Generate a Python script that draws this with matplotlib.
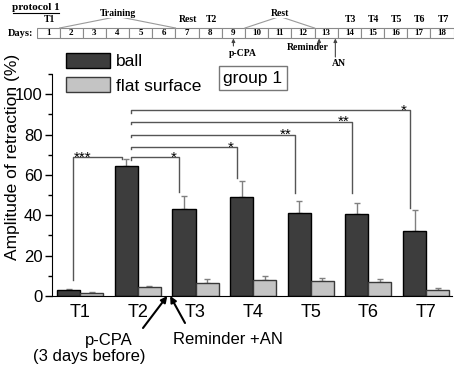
import matplotlib.pyplot as plt
import numpy as np

plt.rcParams['font.family'] = ['Liberation Sans', 'DejaVu Sans']

tests = ['T1', 'T2', 'T3', 'T4', 'T5', 'T6', 'T7']
ball = [2.9, 64.4, 42.9, 49.2, 40.9, 40.4, 32.2]
ball_err = [0.7, 3.3, 6.8, 7.9, 6.1, 5.8, 10.4]
flat = [1.5, 4.3, 6.3, 7.9, 7.6, 6.8, 3.0]
flat_err = [0.3, 0.5, 1.9, 1.8, 1.5, 1.6, 1.1]

# significance brackets
sig_from = ['T1', 'T2', 'T2', 'T2', 'T2', 'T2']
sig_to = ['T2', 'T3', 'T4', 'T5', 'T6', 'T7']
sig_level = [68.7, 68.7, 73.9, 80.0, 86.3, 92.1]
sig_left_end = [8.0, 67.5, 72.6, 78.7, 85.0, 90.8]
sig_right_end = [67.7, 51.5, 58.4, 51.0, 51.0, 43.6]
sig_stars = ['***', '*', '*', '**', '**', '*']

# protocol schematic
days = list(range(1, 19))
day_labels = {1: 'T1', 7: 'Rest', 8: 'T2', 14: 'T3', 15: 'T4',
              16: 'T5', 17: 'T6', 18: 'T7'}
periods = [('Training', 2, 6), ('Rest', 10, 12)]

fig = plt.figure(figsize=(4.59, 3.66), dpi=100)
W, H = 459, 366
ax = fig.add_axes([52 / W, (H - 296) / H, 400 / W, 222 / H])

x = np.arange(len(tests))
bw = 0.4
err_kw = dict(ecolor='#808080', elinewidth=1, capsize=2.5, capthick=1, zorder=1)
ax.bar(x - bw / 2, ball, bw, color='#3d3d3d', edgecolor='black', linewidth=1,
       yerr=[np.zeros(len(x)), ball_err], error_kw=err_kw, label='ball', zorder=2)
ax.bar(x + bw / 2, flat, bw, color='#c4c4c4', edgecolor='#3a3a3a', linewidth=1,
       yerr=[np.zeros(len(x)), flat_err], error_kw=err_kw, label='flat surface', zorder=2)

for a, b, lev, le, re, st in zip(sig_from, sig_to, sig_level, sig_left_end,
                                 sig_right_end, sig_stars):
    xl = tests.index(a) - bw / 2 + 0.08
    xr = tests.index(b) - bw / 2 - 0.08
    ax.plot([xl, xl, xr, xr], [le, lev, lev, re], color='#555555', lw=1,
            zorder=3, clip_on=False)
    if a == 'T1':
        ax.text(xl, lev - 2.2, st, ha='left', va='baseline', fontsize=11,
                zorder=4)
    else:
        ax.text(xr - 0.05, lev - 2.2, st, ha='right', va='baseline', fontsize=11,
                zorder=4)

ax.set_xlim(-0.49, 6.45)
ax.set_ylim(0, 110)
ax.set_xticks(x)
ax.set_xticklabels(tests, fontsize=13)
ax.tick_params(axis='x', length=0, pad=6)
ax.set_yticks(np.arange(0, 101, 20))
ax.set_yticks(np.arange(10, 111, 20), minor=True)
ax.tick_params(axis='y', which='major', direction='out', length=5, width=1,
               labelsize=12, pad=2)
ax.tick_params(axis='y', which='minor', direction='out', length=3, width=1)
ax.spines['top'].set_visible(False)
ax.spines['right'].set_visible(False)
ax.set_ylabel('Amplitude of retraction (%)', fontsize=12.5)
ax.yaxis.set_label_coords(-0.08, 0.626)

ax.legend(loc='upper left', bbox_to_anchor=(66 / W, 1 - 53 / H),
          bbox_transform=fig.transFigure, frameon=False, fontsize=12.5,
          handlelength=2.55, handleheight=0.95, handletextpad=0.35,
          labelspacing=0.45, borderpad=0, borderaxespad=0)

fig.text(253 / W, 1 - 78 / H, 'group 1', ha='center', va='center', fontsize=12.5,
         bbox=dict(boxstyle='square,pad=0.25', facecolor='white',
                   edgecolor='#777777', linewidth=1))

# treatment arrows below the axis
ax.annotate('', xy=(1.51, 0), xycoords='data', xytext=(143 / W, 1 - 328 / H),
            textcoords='figure fraction',
            arrowprops=dict(arrowstyle='-|>', color='black', lw=1.5,
                            mutation_scale=9, shrinkA=0, shrinkB=0),
            annotation_clip=False)
ax.annotate('', xy=(1.56, 0), xycoords='data', xytext=(185 / W, 1 - 323 / H),
            textcoords='figure fraction',
            arrowprops=dict(arrowstyle='-|>', color='black', lw=1.5,
                            mutation_scale=9, shrinkA=0, shrinkB=0),
            annotation_clip=False)
fig.text(109 / W, 1 - 340 / H, 'p-CPA', ha='center', va='center', fontsize=12)
fig.text(89 / W, 1 - 357 / H, '(3 days before)', ha='center', va='center', fontsize=12)
fig.text(228 / W, 1 - 340 / H, 'Reminder +AN', ha='center', va='center', fontsize=12)

# protocol schematic on top
top = fig.add_axes([36.5 / W, (H - 70) / H, 417 / W, 70 / H])
top.set_xlim(0.5, 18.5)
top.set_ylim(70, 0)
top.axis('off')
serif = dict(family=['Liberation Serif', 'DejaVu Serif'], fontweight='bold')
for d in days:
    top.add_patch(plt.Rectangle((d - 0.5, 28), 1, 9.5, facecolor='white',
                                edgecolor='#8a8a8a', linewidth=0.8))
    top.text(d, 33, str(d), ha='center', va='center', fontsize=6.5, **serif)
    if d in day_labels:
        top.text(d + 0.05, 20, day_labels[d], ha='center', va='center',
                 fontsize=7, **serif)
top.text(0.35, 33, 'Days:', ha='right', va='center', fontsize=7.5, **serif)
for name, d0, d1 in periods:
    mid = (d0 + d1) / 2
    top.plot([d0 - 0.5, mid, d1 + 0.5], [28, 16.5, 28], color='#9a9a9a', lw=0.8)
    top.text(mid, 13, name, ha='center', va='center', fontsize=7,
             bbox=dict(boxstyle='square,pad=0.1', facecolor='white', edgecolor='none'),
             **serif)
arrow_kw = dict(arrowstyle='-|>', color='#444444', lw=0.8, mutation_scale=5,
                shrinkA=0, shrinkB=0)
top.annotate('', xy=(9, 38.5), xytext=(9, 46), arrowprops=arrow_kw)
top.annotate('', xy=(12.7, 38.5), xytext=(12.7, 46), arrowprops=arrow_kw)
top.annotate('', xy=(13.4, 38.5), xytext=(13.4, 57), arrowprops=arrow_kw)
top.text(9.4, 54, 'p-CPA', ha='center', va='center', fontsize=7, **serif)
top.text(12.2, 47.5, 'Reminder', ha='center', va='center', fontsize=7, **serif)
top.text(13.55, 63, 'AN', ha='center', va='center', fontsize=7, **serif)

fig.text(12 / W, 1 - 8 / H, 'protocol 1', ha='left', va='center', fontsize=8,
         family=['Liberation Serif', 'DejaVu Serif'], fontweight='bold')
top.plot([-0.53, 1.47], [12.5, 12.5], color='black', lw=0.8, clip_on=False)

fig.savefig('out.png', dpi=100)
